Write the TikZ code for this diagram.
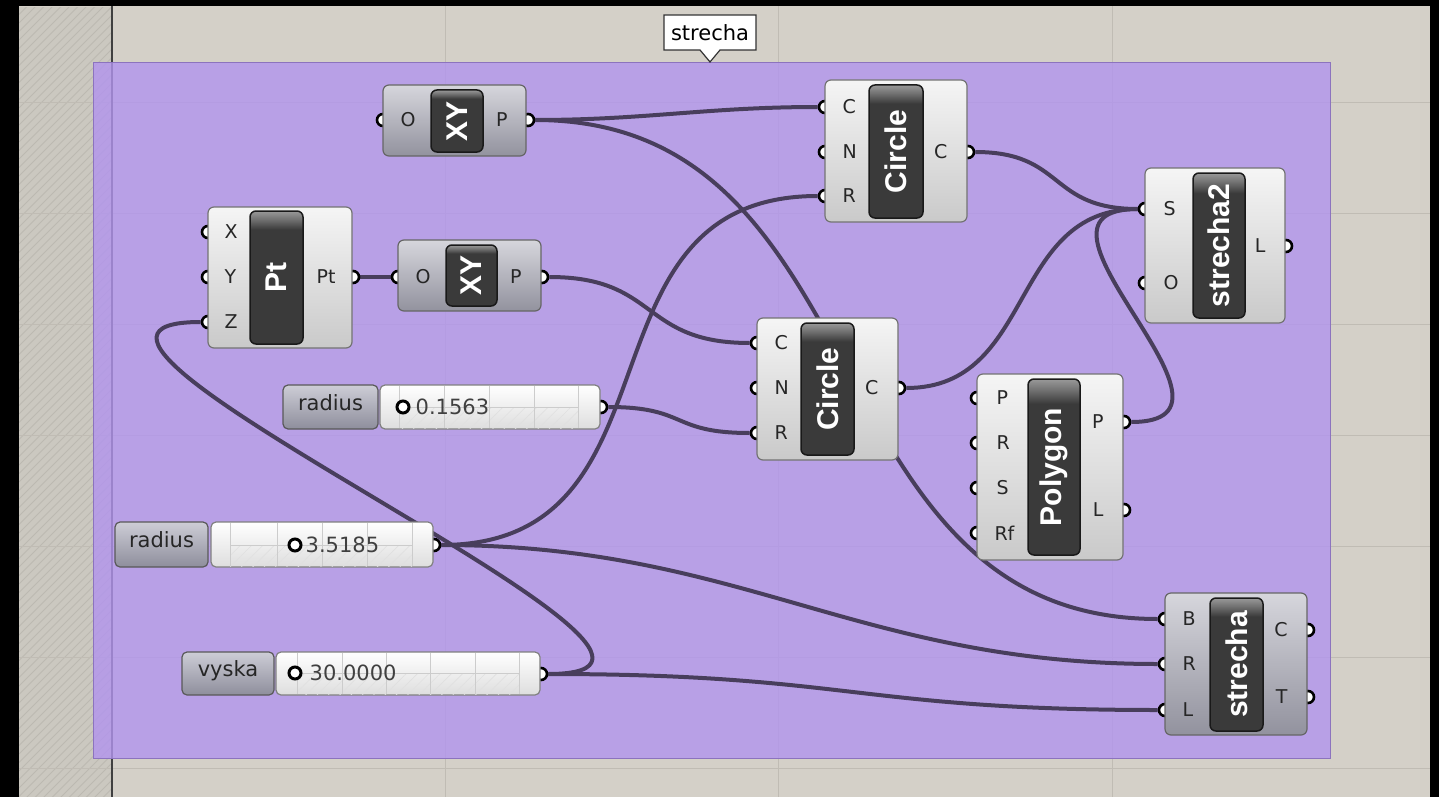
\documentclass[tikz,border=0pt]{standalone}
\usepackage{fontspec}
\setmainfont{DejaVu Sans}
\newfontfamily\capsfont{Liberation Sans}
\usetikzlibrary{positioning,shapes.callouts,patterns.meta}

\definecolor{canvasbg}{RGB}{212,208,200}
\definecolor{stripbg}{RGB}{203,200,192}
\definecolor{stripline}{RGB}{188,185,177}
\definecolor{gridcol}{RGB}{192,188,180}
\definecolor{groupfill}{RGB}{178,148,238}
\definecolor{groupline}{RGB}{140,115,190}
\definecolor{wirecol}{RGB}{72,62,92}
\definecolor{capfill}{RGB}{58,58,58}
\definecolor{darktop}{RGB}{214,214,220}
\definecolor{darkbot}{RGB}{146,146,158}
\definecolor{labtop}{RGB}{205,205,214}
\definecolor{labbot}{RGB}{142,142,156}
\definecolor{ink}{RGB}{38,38,38}

\pgfdeclarelayer{canvas}
\pgfdeclarelayer{wires}
\pgfsetlayers{canvas,wires,main}
\pgfdeclareverticalshading{capshade}{100bp}{color(0bp)=(capfill); color(68bp)=(capfill); color(72bp)=(black!55); color(75bp)=(black!40); color(100bp)=(black!40)}

\begin{document}
\begin{tikzpicture}[x=1pt, y=-1pt,
	grip/.style={circle, draw=black, line width=2.6pt, fill=white, minimum size=12pt, inner sep=0pt},
	lightbody/.style={draw=black!55, line width=1.2pt, rounded corners=6pt, top color=black!4, bottom color=black!21},
	darkbody/.style={draw=black!60, line width=1.2pt, rounded corners=6pt, top color=darktop, bottom color=darkbot},
	capsule/.style={draw=black!90, line width=1.5pt, rounded corners=6pt, shade, shading=capshade, text=white, inner sep=0pt, font=\capsfont\fontsize{30}{30}\selectfont\bfseries},
	portname/.style={text=ink, inner sep=1pt, font=\fontsize{19}{19}\selectfont},
	sliderlab/.style={draw=black!65, line width=1.2pt, rounded corners=5pt, top color=labtop, bottom color=labbot, text=ink, font=\fontsize{21}{21}\selectfont, text height=1.5ex, text depth=.25ex, inner sep=0pt},
	sliderbody/.style={draw=black!50, line width=1.2pt, rounded corners=5pt, top color=white, bottom color=black!13, inner sep=0pt},
	slidergrid/.style={black!20, line width=1pt},
	knob/.style={circle, draw=black, line width=3pt, fill=white, minimum size=12pt, inner sep=0pt},
	slidervalue/.style={text=black!75, inner sep=0pt, font=\fontsize{21}{21}\selectfont},
	wire/.style={draw=wirecol, line width=4pt},
	grptitle/.style={rectangle callout, draw=black!80, line width=1.2pt, fill=white, font=\fontsize{21}{21}\selectfont, inner xsep=7pt, minimum height=35pt, callout pointer width=20pt}]
	\useasboundingbox (0,0) rectangle (1439,797);

	% canvas and group
	\begin{pgfonlayer}{canvas}
		\fill[canvasbg] (19,6) rectangle (1430,797);
		\begin{scope}
			\clip (19,8) rectangle (112,797);
			\fill[stripbg] (19,6) rectangle (112,797);
			\foreach \c in {25,33.5,...,910}
				\draw[stripline, line width=0.8pt] (19,\c-19) -- (112,\c-112);
		\end{scope}
		\foreach \y in {103,213,324,435,546,657,768}
			\draw[gridcol, line width=1pt] (19,\y) -- (1430,\y);
		\foreach \x in {445,778,1112}
			\draw[gridcol, line width=1pt] (\x,6) -- (\x,797);
		\draw[black!75, line width=2pt] (112,6) -- (112,797);
		\fill[black] (0,0) rectangle (1439,6.5);
		\fill[black] (0,0) rectangle (19,797);
		\fill[black] (1430,0) rectangle (1439,797);
		\draw[groupline, line width=1pt, fill=groupfill, fill opacity=0.8] (93,63) rectangle (1330,758);
	\end{pgfonlayer}
	\node[grptitle, callout absolute pointer={(710,62)}] (grpname) at (710,32.5) {strecha};

	% grips
	\node[grip] (xyA-O) at (383,120) {};
	\node[grip] (xyA-P) at (528,120) {};
	\node[grip] (xyB-O) at (398,277) {};
	\node[grip] (xyB-P) at (542,277) {};
	\node[grip] (pt-X) at (208,232) {};
	\node[grip] (pt-Y) at (208,277) {};
	\node[grip] (pt-Z) at (208,322) {};
	\node[grip] (pt-Pt) at (353,277) {};
	\node[grip] (circA-C) at (825,107) {};
	\node[grip] (circA-N) at (825,152) {};
	\node[grip] (circA-R) at (825,196) {};
	\node[grip] (circA-Co) at (968,152) {};
	\node[grip] (circB-C) at (757,343) {};
	\node[grip] (circB-N) at (757,388) {};
	\node[grip] (circB-R) at (757,433) {};
	\node[grip] (circB-Co) at (899,388) {};
	\node[grip] (str2-S) at (1145,209) {};
	\node[grip] (str2-O) at (1145,283) {};
	\node[grip] (str2-L) at (1286,246) {};
	\node[grip] (poly-P) at (977,398) {};
	\node[grip] (poly-R) at (977,443) {};
	\node[grip] (poly-S) at (977,488) {};
	\node[grip] (poly-Rf) at (977,533) {};
	\node[grip] (poly-Po) at (1124,422) {};
	\node[grip] (poly-L) at (1124,510) {};
	\node[grip] (str-B) at (1165,619) {};
	\node[grip] (str-R) at (1165,664) {};
	\node[grip] (str-L) at (1165,710) {};
	\node[grip] (str-C) at (1308,630) {};
	\node[grip] (str-T) at (1308,697) {};
	\node[grip] (radA) at (601,407) {};
	\node[grip] (radB) at (434,545) {};
	\node[grip] (vys) at (541,674) {};

	% components
	\node[darkbody, minimum width=143pt, minimum height=71pt] (xyA) at (454.5,120.5) {};
	\node[capsule, minimum width=52pt, minimum height=62pt] (xyA-cap) at (457,121) {\rotatebox{90}{XY}};
	\node[darkbody, minimum width=143pt, minimum height=71pt] (xyB) at (469.5,275.5) {};
	\node[capsule, minimum width=51pt, minimum height=61pt] (xyB-cap) at (471.5,275.5) {\rotatebox{90}{XY}};
	\node[lightbody, minimum width=144pt, minimum height=141pt] (pt) at (280,277.5) {};
	\node[capsule, minimum width=53pt, minimum height=133pt] (pt-cap) at (276.5,277.5) {\rotatebox{90}{Pt}};
	\node[lightbody, minimum width=142pt, minimum height=142pt] (circA) at (896,151) {};
	\node[capsule, minimum width=54pt, minimum height=133pt] (circA-cap) at (896,151.5) {\rotatebox{90}{Circle}};
	\node[lightbody, minimum width=141pt, minimum height=142pt] (circB) at (827.5,389) {};
	\node[capsule, minimum width=53pt, minimum height=132pt] (circB-cap) at (827.5,389) {\rotatebox{90}{Circle}};
	\node[lightbody, minimum width=140pt, minimum height=155pt] (str2) at (1215,245.5) {};
	\node[capsule, minimum width=52pt, minimum height=145pt] (str2-cap) at (1219,245.5) {\rotatebox{90}{strecha2}};
	\node[lightbody, minimum width=146pt, minimum height=186pt] (poly) at (1050,467) {};
	\node[capsule, minimum width=52pt, minimum height=176pt] (poly-cap) at (1054,467) {\rotatebox{90}{Polygon}};
	\node[darkbody, minimum width=142pt, minimum height=142pt] (str) at (1236,664) {};
	\node[capsule, minimum width=53pt, minimum height=133pt] (str-cap) at (1236.5,664.5) {\rotatebox{90}{strecha}};

	% port names
	\node[portname, right=9pt of xyA-O] (xyA-tO) {O};
	\node[portname, left=12pt of xyA-P] (xyA-tP) {P};
	\node[portname, right=9pt of xyB-O] (xyB-tO) {O};
	\node[portname, left=12pt of xyB-P] (xyB-tP) {P};
	\node[portname, right=8pt of pt-X] (pt-tX) {X};
	\node[portname, right=8pt of pt-Y] (pt-tY) {Y};
	\node[portname, right=8pt of pt-Z] (pt-tZ) {Z};
	\node[portname, left=9pt of pt-Pt] (pt-tPt) {Pt};
	\node[portname, right=9pt of circA-C] (circA-tC) {C};
	\node[portname, right=9pt of circA-N] (circA-tN) {N};
	\node[portname, right=9pt of circA-R] (circA-tR) {R};
	\node[portname, left=12pt of circA-Co] (circA-tCo) {C};
	\node[portname, right=9pt of circB-C] (circB-tC) {C};
	\node[portname, right=9pt of circB-N] (circB-tN) {N};
	\node[portname, right=9pt of circB-R] (circB-tR) {R};
	\node[portname, left=12pt of circB-Co] (circB-tCo) {C};
	\node[portname, right=10pt of str2-S] (str2-tS) {S};
	\node[portname, right=10pt of str2-O] (str2-tO) {O};
	\node[portname, left=12pt of str2-L] (str2-tL) {L};
	\node[portname, right=11pt of poly-P] (poly-tP) {P};
	\node[portname, right=11pt of poly-R] (poly-tR) {R};
	\node[portname, right=11pt of poly-S] (poly-tS) {S};
	\node[portname, right=9pt of poly-Rf] (poly-tRf) {Rf};
	\node[portname, left=12pt of poly-Po] (poly-tPo) {P};
	\node[portname, left=12pt of poly-L] (poly-tL) {L};
	\node[portname, right=9pt of str-B] (str-tB) {B};
	\node[portname, right=9pt of str-R] (str-tR) {R};
	\node[portname, right=9pt of str-L] (str-tL) {L};
	\node[portname, left=12pt of str-C] (str-tC) {C};
	\node[portname, left=12pt of str-T] (str-tT) {T};

	% sliders
	\node[sliderlab, minimum width=95pt, minimum height=44pt] (radA-lab) at (330.5,407) {radius};
	\node[sliderbody, minimum width=220pt, minimum height=44pt] (radA-body) at (490,407) {};
	\fill[pattern={Lines[angle=45,distance=8pt,line width=0.6pt]}, pattern color=black!12] (399,407) rectangle (578,428);
	\foreach \x in {399,444,489,534,578}
		\draw[slidergrid] (\x,386) -- (\x,428);
	\draw[slidergrid] (399,407) -- (578,407);
	\node[knob] (radA-knob) at (403,407) {};
	\node[slidervalue, right=5pt of radA-knob] (radA-val) {0.1563};

	\node[sliderlab, minimum width=93pt, minimum height=45pt] (radB-lab) at (161.5,544.5) {radius};
	\node[sliderbody, minimum width=222pt, minimum height=45pt] (radB-body) at (322,544.5) {};
	\fill[pattern={Lines[angle=45,distance=8pt,line width=0.6pt]}, pattern color=black!12] (230,545) rectangle (412,566);
	\foreach \x in {230,277,322,367,412}
		\draw[slidergrid] (\x,523) -- (\x,566);
	\draw[slidergrid] (230,545) -- (412,545);
	\node[knob] (radB-knob) at (295,545) {};
	\node[slidervalue, right=3pt of radB-knob] (radB-val) {3.5185};

	\node[sliderlab, minimum width=92pt, minimum height=43pt] (vys-lab) at (228,673.5) {vyska};
	\node[sliderbody, minimum width=264pt, minimum height=43pt] (vys-body) at (408,673.5) {};
	\fill[pattern={Lines[angle=45,distance=8pt,line width=0.6pt]}, pattern color=black!12] (297,673.5) rectangle (519,694);
	\foreach \x in {297,342,386,430,475,519}
		\draw[slidergrid] (\x,653) -- (\x,694);
	\draw[slidergrid] (297,673.5) -- (519,673.5);
	\node[knob] (vys-knob) at (295,673) {};
	\node[slidervalue, right=7pt of vys-knob] (vys-val) {30.0000};

	% wires
	\begin{pgfonlayer}{wires}
		\draw[wire] (xyA-P) to[out=0, in=180, distance=110pt] (circA-C);
		\draw[wire] (xyA-P) to[out=0, in=180, distance=350pt] (str-B);
		\draw[wire] (xyB-P) to[out=0, in=180, distance=110pt] (circB-C);
		\draw[wire] (pt-Pt) to[out=0, in=180, distance=20pt] (xyB-O);
		\draw[wire] (circA-Co) to[out=0, in=180, distance=90pt] (str2-S);
		\draw[wire] (circB-Co) to[out=0, in=180, distance=130pt] (str2-S);
		\draw[wire] (poly-Po) to[out=0, in=180, distance=140pt] (str2-S);
		\draw[wire] (radA) to[out=0, in=180, distance=80pt] (circB-R);
		\draw[wire] (radB) to[out=0, in=180, distance=250pt] (circA-R);
		\draw[wire] (radB) to[out=0, in=180, distance=300pt] (str-R);
		\draw[wire] (vys) to[out=0, in=180, distance=300pt] (str-L);
		\draw[wire] (vys) to[out=0, in=180, distance=240pt] (pt-Z);
	\end{pgfonlayer}
\end{tikzpicture}
\end{document}
